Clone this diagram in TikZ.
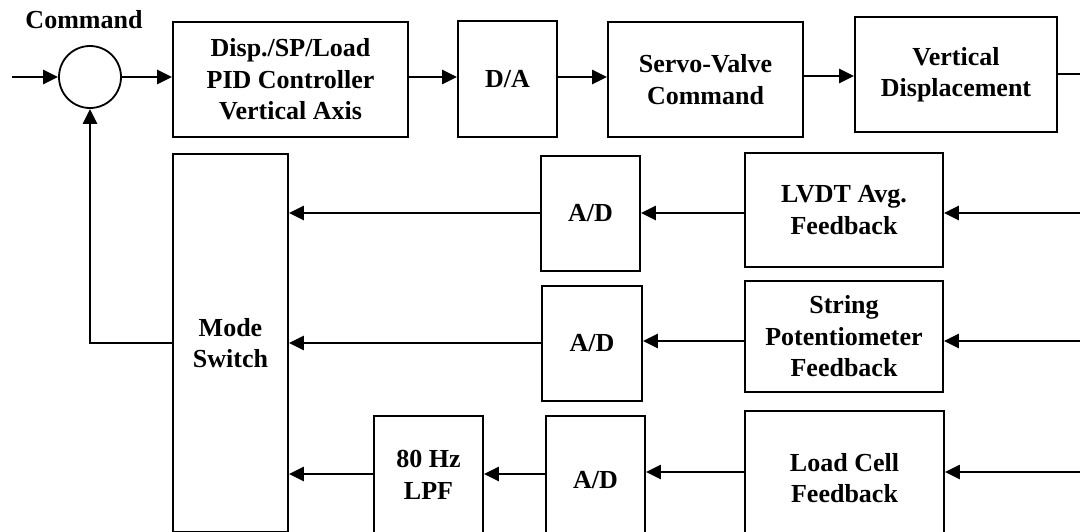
\documentclass[tikz,border=0pt]{standalone}
\usepackage{fontspec}
\setmainfont{Liberation Serif}
\usetikzlibrary{arrows.meta}
\begin{document}
\begin{tikzpicture}[x=0.5pt,y=-0.5pt,
  blk/.style={draw,line width=0.9pt,align=center,inner sep=0pt,
    font=\fontsize{13}{15.75}\selectfont\bfseries},
  sumnode/.style={draw,circle,line width=0.9pt,minimum size=31pt,inner sep=0pt},
  lbl/.style={font=\fontsize{13}{15.75}\selectfont\bfseries,inner sep=0pt},
  sig/.style={line width=1.2pt,-{Triangle[length=7.5pt,width=7pt]}},
  wire/.style={line width=1.2pt}]
\useasboundingbox (0,0) rectangle (1080,531);

% forward path
\node[sumnode] (sum) at (90,77) {};
\node[lbl] (cmd) at (84,20) {Command};
\node[blk,minimum width=117.5pt,minimum height=57.5pt] (pid) at (290.5,79.5)
  {Disp./SP/Load\\PID Controller\\Vertical Axis};
\node[blk,minimum width=49.5pt,minimum height=58pt] (da) at (507.5,79) {D/A};
\node[blk,minimum width=97.5pt,minimum height=57.5pt] (servo) at (705.5,79.5)
  {Servo-Valve\\Command};
\node[blk,minimum width=101pt,minimum height=57.5pt] (vd) at (956,74.5)
  {Vertical\\Displacement};

% feedback path
\node[blk,minimum width=57.5pt,minimum height=189pt] (mode) at (230.5,343)
  {Mode\\Switch};
\node[blk,minimum width=99pt,minimum height=57pt] (lvdt) at (844,210)
  {LVDT Avg.\\Feedback};
\node[blk,minimum width=99pt,minimum height=55.5pt] (spot) at (844,336.5)
  {String\\Potentiometer\\Feedback};
\node[blk,minimum width=99.5pt,minimum height=67pt] (load) at (844.5,478)
  {Load Cell\\Feedback};
\node[blk,minimum width=49.5pt,minimum height=57.5pt] (ad1) at (590.5,213.5) {A/D};
\node[blk,minimum width=50pt,minimum height=57.5pt] (ad2) at (592,343.5) {A/D};
\node[blk,minimum width=49.5pt,minimum height=64pt] (ad3) at (595.5,480) {A/D};
\node[blk,minimum width=54.5pt,minimum height=59pt] (lpf) at (428.5,475)
  {80 Hz\\LPF};

% signal sources and taps at the edge
\coordinate (in) at (12,77);
\coordinate (out) at (1080,74);
\coordinate (s1) at (1080,213);
\coordinate (s2) at (1080,341);
\coordinate (s3) at (1080,472);
\coordinate (fb) at (90,343);

% forward connectors
\draw[sig] (in) -- (sum.west);
\draw[sig] (sum.east) -- (sum.east -| pid.west);
\draw[sig] (pid.east |- 0,77) -- (da.west |- 0,77);
\draw[sig] (da.east |- 0,77) -- (servo.west |- 0,77);
\draw[sig] (servo.east |- 0,76) -- (vd.west |- 0,76);
\draw[wire] (vd.east |- out) -- (out);

% feedback connectors
\draw[sig] (s1) -- (lvdt.east |- s1);
\draw[sig] (lvdt.west |- s1) -- (ad1.east |- s1);
\draw[sig] (ad1.west |- s1) -- (mode.east |- s1);

\draw[sig] (s2) -- (spot.east |- s2);
\draw[sig] (spot.west |- s2) -- (ad2.east |- s2);
\draw[sig] (ad2.west |- fb) -- (mode.east |- fb);

\draw[sig] (s3) -- (load.east |- s3);
\draw[sig] (load.west |- s3) -- (ad3.east |- s3);
\draw[sig] (ad3.west |- 0,474) -- (lpf.east |- 0,474);
\draw[sig] (lpf.west |- 0,474) -- (mode.east |- 0,474);

\draw[sig] (mode.west |- fb) -- (fb) -- (sum.south);
\end{tikzpicture}
\end{document}
